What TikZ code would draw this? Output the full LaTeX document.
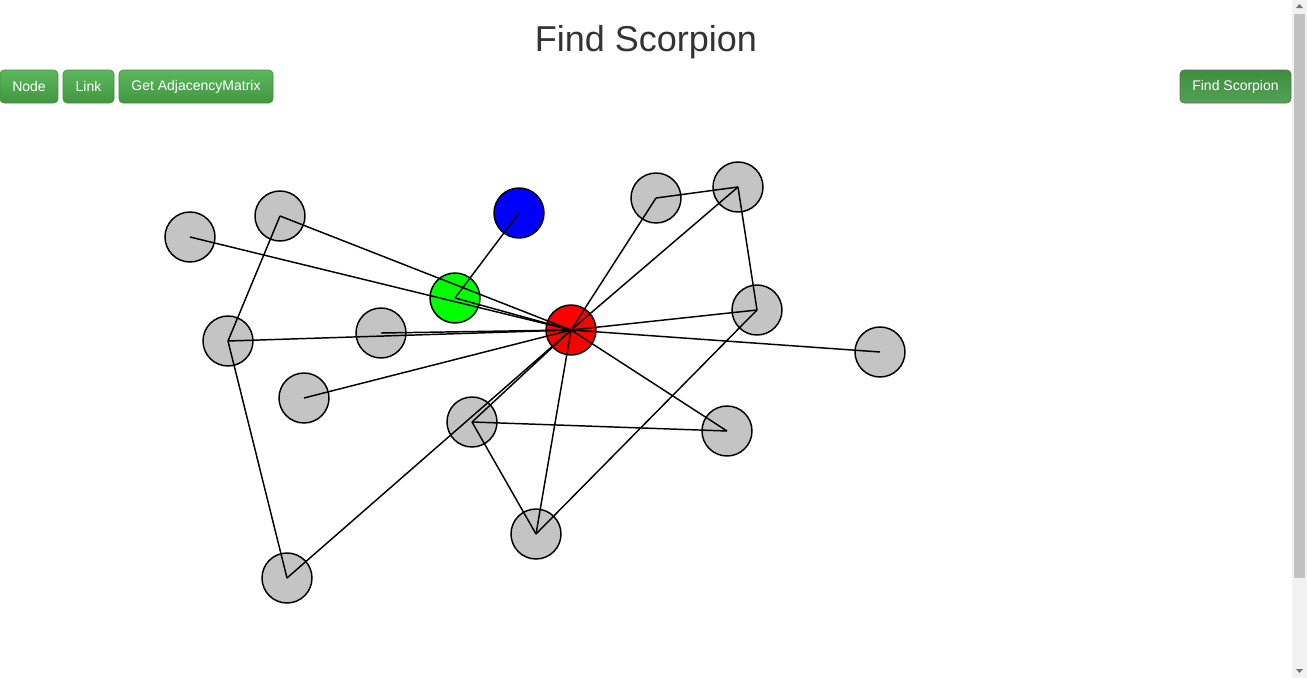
\documentclass[tikz,border=0pt]{standalone}
\usepackage{fontspec}
\setmainfont{Liberation Sans}
\usepackage{tikz}
\definecolor{nodegray}{HTML}{C4C4C4}
\definecolor{btntop}{HTML}{5CB85C}
\definecolor{btnbot}{HTML}{419641}
\definecolor{btnline}{HTML}{3E8F3E}
\definecolor{titlegray}{HTML}{333333}
\definecolor{trackgray}{HTML}{F1F1F1}
\definecolor{thumbgray}{HTML}{C1C1C1}
\begin{document}
\begin{tikzpicture}[x=0.75pt,y=-0.75pt]
\tikzstyle{vertex}=[draw,shape=circle,line width=1.1pt,minimum size=37.5pt,inner sep=0pt];
\tikzstyle{button}=[draw=btnline,rounded corners=3pt,top color=btntop,bottom color=btnbot,text=white,font=\fontsize{10.5}{12}\selectfont,minimum height=24.75pt,inner sep=0pt];
\tikzstyle{edge}=[line width=1.1pt];
\useasboundingbox (0,0) rectangle (1307,678);
% title and buttons
\node[text=titlegray,font=\fontsize{27}{32}\selectfont] (title) at (646,42) {Find Scorpion};
\node[button,minimum width=43.5pt] (node) at (29,86.5) {Node};
\node[button,minimum width=38.25pt] (link) at (88.5,86.5) {Link};
\node[button,minimum width=115.5pt] (adj) at (196,86.5) {Get AdjacencyMatrix};
\node[button,minimum width=83.25pt,draw=black!60,top color=btnbot!95!black,bottom color=btnbot!90!white] (find) at (1235.5,86.5) {Find Scorpion};
% scrollbar
\fill[trackgray] (1292,0) rectangle (1307,678);
\fill[thumbgray] (1294,14) rectangle (1305,578);
\fill[black!55] (1296,8) -- (1303,8) -- (1299.5,4) -- cycle;
\fill[black!55] (1296,669) -- (1303,669) -- (1299.5,673) -- cycle;
% vertices
\node[vertex,fill=nodegray] (a) at (190,237) {};
\node[vertex,fill=nodegray] (b) at (280,216) {};
\node[vertex,fill=blue] (c) at (519,213) {};
\node[vertex,fill=green] (d) at (455,298) {};
\node[vertex,fill=nodegray] (e) at (656,198) {};
\node[vertex,fill=nodegray] (f) at (738,187) {};
\node[vertex,fill=nodegray] (g) at (228,341) {};
\node[vertex,fill=nodegray] (h) at (381,333) {};
\node[vertex,fill=red] (r) at (571,330) {};
\node[vertex,fill=nodegray] (i) at (757,310) {};
\node[vertex,fill=nodegray] (j) at (880,352) {};
\node[vertex,fill=nodegray] (k) at (304,398) {};
\node[vertex,fill=nodegray] (l) at (472,422) {};
\node[vertex,fill=nodegray] (m) at (727,431) {};
\node[vertex,fill=nodegray] (n) at (536,534) {};
\node[vertex,fill=nodegray] (o) at (287,578) {};
% links
\foreach \u/\v in {a/r,b/r,b/g,c/d,d/r,e/r,e/f,f/r,f/i,i/r,i/n,j/r,g/r,h/r,k/r,l/r,o/r,l/m,l/n,n/r,m/r,g/o}
  \draw[edge] (\u.center) -- (\v.center);
\end{tikzpicture}
\end{document}
